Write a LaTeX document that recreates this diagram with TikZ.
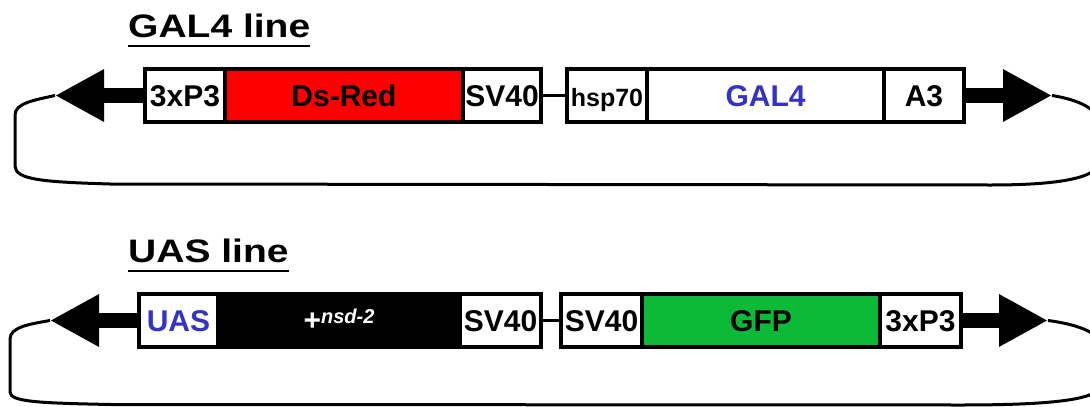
\documentclass[tikz,border=0pt]{standalone}
\usepackage{fontspec}
\usepackage{graphicx}
\setmainfont{Liberation Sans}
\usetikzlibrary{positioning,arrows.meta}

\definecolor{dsred}{RGB}{255,0,0}
\definecolor{gfpgreen}{RGB}{12,186,56}
\definecolor{seqblue}{RGB}{51,51,204}

\begin{document}
\begin{tikzpicture}[x=1pt,y=-1pt,
    seg/.style={draw, line width=4pt, fill=white, minimum height=53pt,
      inner sep=0pt, outer sep=0pt, font=\fontsize{30}{30}\selectfont\bfseries,
      text height=21.5pt, text depth=0pt},
    linetitle/.style={inner sep=0pt, anchor=base west,
      font=\fontsize{32.5}{32.5}\selectfont\bfseries},
    uline/.style={line width=2pt},
    shaft/.style={line width=15pt, -{Triangle[length=49pt,width=49pt]}},
    link/.style={line width=3pt},
    loopline/.style={line width=3pt, line join=round}]
  \useasboundingbox (0,0) rectangle (1090,407);
  \clip (0,0) rectangle (1090,407);

  % GAL4 line
  \node[linetitle] (gtitle) at (128,37.5) {\scalebox{1.2}[1]{GAL4 line}};
  \draw[uline] ([yshift=-8.5pt]gtitle.base west) -- ([yshift=-8.5pt]gtitle.base east);

  \node[seg, minimum width=80pt] (g1) at (185,95.5) {3xP3};
  \node[seg, minimum width=238pt, fill=dsred, right=0pt of g1] (g2) {Ds-Red};
  \node[seg, minimum width=78pt, right=0pt of g2] (g3) {SV40};
  \node[seg, minimum width=80pt, right=26pt of g3, font=\fontsize{25}{25}\selectfont\bfseries] (g4) {hsp70};
  \node[seg, minimum width=237pt, text=seqblue, right=0pt of g4] (g5) {GAL4};
  \node[seg, minimum width=80pt, right=0pt of g5] (g6) {A3};
  \draw[link] (g3.east) -- (g4.west);

  \coordinate (gtipL) at ([xshift=-90pt]g1.west);
  \coordinate (gtipR) at ([xshift=88pt]g6.east);
  \draw[shaft] (g1.west) -- (gtipL);
  \draw[shaft] (g6.east) -- (gtipR);
  \draw[loopline] (gtipL) .. controls (35,100) and (15,103) .. (15,115) -- (15,166)
    .. controls (15,180) and (45,182) .. (110,184) -- (990,185)
    .. controls (1060,185) and (1100,178) .. (1100,160) -- (1100,125)
    .. controls (1100,110) and (1080,100) .. (gtipR);

  % UAS line
  \node[linetitle] (utitle) at (128,262) {\scalebox{1.2}[1]{UAS line}};
  \draw[uline] ([yshift=-8.5pt]utitle.base west) -- ([yshift=-8.5pt]utitle.base east);

  \node[seg, minimum width=79pt, text=seqblue] (b1) at (178.5,320.5) {UAS};
  \node[seg, minimum width=242pt, fill=black, text=white, right=0pt of b1, text height=19pt]
    (b2) {{\fontsize{30}{30}\selectfont +}\raisebox{7pt}{\fontsize{20}{20}\selectfont\itshape nsd-2}};
  \node[seg, minimum width=81pt, right=0pt of b2] (b3) {SV40};
  \node[seg, minimum width=81pt, right=20pt of b3] (b4) {SV40};
  \node[seg, minimum width=238pt, fill=gfpgreen, right=0pt of b4] (b5) {GFP};
  \node[seg, minimum width=81pt, right=0pt of b5] (b6) {3xP3};
  \draw[link] (b3.east) -- (b4.west);

  \coordinate (btipL) at ([xshift=-89pt]b1.west);
  \coordinate (btipR) at ([xshift=87pt]b6.east);
  \draw[shaft] (b1.west) -- (btipL);
  \draw[shaft] (b6.east) -- (btipR);
  \draw[loopline] (btipL) .. controls (30,324) and (10,327) .. (10,339) -- (10,392)
    .. controls (10,402) and (40,403) .. (110,404.5) -- (960,405)
    .. controls (1050,405) and (1100,400) .. (1100,385) -- (1100,345)
    .. controls (1100,332) and (1075,324) .. (btipR);
\end{tikzpicture}
\end{document}
